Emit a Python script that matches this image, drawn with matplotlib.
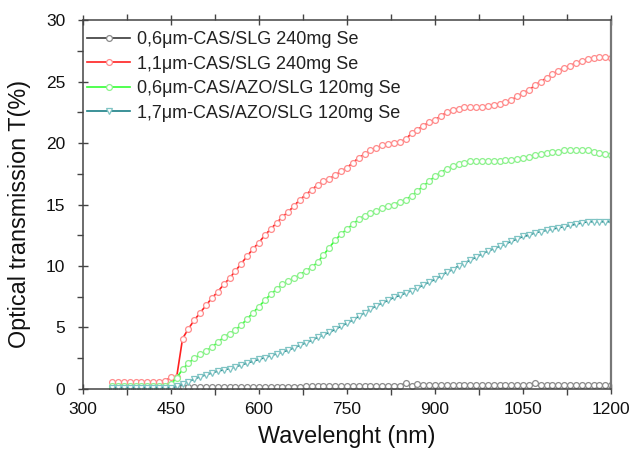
import numpy as np
import matplotlib
matplotlib.use("Agg")
import matplotlib.pyplot as plt
from matplotlib.ticker import MultipleLocator

plt.rcParams['font.family'] = ['Liberation Sans', 'DejaVu Sans']

# Wavelength grid (nm), 10 nm step
wavelength = np.arange(350, 1201, 10)

labels = [
    "0,6\u03bcm-CAS/SLG 240mg Se",
    "1,1\u03bcm-CAS/SLG 240mg Se",
    "0,6\u03bcm-CAS/AZO/SLG 120mg Se",
    "1,7\u03bcm-CAS/AZO/SLG 120mg Se",
]

# Transmission T(%)
t_06_slg = [
    0.10, 0.10, 0.10, 0.10, 0.10, 0.10, 0.10, 0.10, 0.10, 0.10,
    0.10, 0.12, 0.12, 0.12, 0.12, 0.14, 0.14, 0.14, 0.14, 0.15,
    0.15, 0.15, 0.15, 0.16, 0.16, 0.16, 0.17, 0.17, 0.18, 0.18,
    0.18, 0.19, 0.19, 0.20, 0.20, 0.20, 0.21, 0.21, 0.22, 0.22,
    0.22, 0.23, 0.23, 0.24, 0.24, 0.25, 0.25, 0.26, 0.26, 0.27,
    0.45, 0.25, 0.36, 0.32, 0.30, 0.35, 0.28, 0.30, 0.33, 0.30,
    0.30, 0.34, 0.30, 0.30, 0.33, 0.30, 0.30, 0.34, 0.30, 0.30,
    0.32, 0.30, 0.48, 0.33, 0.30, 0.35, 0.30, 0.30, 0.32, 0.30,
    0.30, 0.31, 0.30, 0.30, 0.31, 0.30,
]
t_11_slg = [
    0.55, 0.55, 0.55, 0.55, 0.55, 0.55, 0.55, 0.55, 0.60, 0.65,
    0.95, 1.00, 4.10, 4.90, 5.60, 6.20, 6.80, 7.40, 7.90, 8.50,
    9.00, 9.60, 10.2, 10.8, 11.4, 11.9, 12.5, 13.0, 13.5, 14.0,
    14.4, 14.9, 15.4, 15.8, 16.2, 16.6, 16.9, 17.1, 17.4, 17.7,
    18.0, 18.4, 18.8, 19.1, 19.4, 19.6, 19.8, 19.9, 20.0, 20.1,
    20.3, 20.8, 21.1, 21.4, 21.7, 21.9, 22.2, 22.5, 22.7, 22.8,
    22.9, 22.9, 22.9, 22.9, 23.0, 23.1, 23.2, 23.3, 23.5, 23.8,
    24.1, 24.3, 24.7, 25.0, 25.3, 25.6, 25.9, 26.1, 26.3, 26.5,
    26.7, 26.8, 26.9, 27.0, 27.0, 26.9,
]
t_06_azo = [
    0.25, 0.25, 0.25, 0.25, 0.25, 0.25, 0.25, 0.25, 0.25, 0.25,
    0.40, 0.90, 1.60, 2.10, 2.50, 2.80, 3.10, 3.40, 3.80, 4.20,
    4.50, 4.80, 5.20, 5.70, 6.20, 6.70, 7.20, 7.70, 8.10, 8.50,
    8.80, 9.00, 9.30, 9.60, 9.90, 10.3, 10.9, 11.5, 12.1, 12.6,
    13.0, 13.4, 13.8, 14.1, 14.3, 14.5, 14.7, 14.9, 15.0, 15.2,
    15.4, 15.7, 16.1, 16.5, 16.9, 17.3, 17.6, 17.9, 18.1, 18.3,
    18.4, 18.5, 18.5, 18.5, 18.5, 18.5, 18.5, 18.6, 18.6, 18.7,
    18.8, 18.9, 19.0, 19.1, 19.2, 19.3, 19.3, 19.4, 19.4, 19.4,
    19.4, 19.4, 19.3, 19.2, 19.1, 19.0,
]
t_17_azo = [
    0.10, 0.10, 0.10, 0.10, 0.10, 0.10, 0.10, 0.10, 0.10, 0.10,
    0.10, 0.20, 0.40, 0.60, 0.80, 1.00, 1.15, 1.30, 1.45, 1.55,
    1.65, 1.80, 1.95, 2.10, 2.25, 2.40, 2.55, 2.70, 2.85, 3.00,
    3.15, 3.35, 3.55, 3.75, 3.95, 4.20, 4.40, 4.60, 4.85, 5.10,
    5.35, 5.60, 5.90, 6.20, 6.50, 6.75, 7.00, 7.20, 7.45, 7.60,
    7.80, 8.00, 8.20, 8.45, 8.70, 8.90, 9.20, 9.50, 9.70, 10.0,
    10.2, 10.5, 10.7, 11.0, 11.2, 11.4, 11.6, 11.8, 12.0, 12.2,
    12.4, 12.5, 12.7, 12.8, 12.9, 13.0, 13.1, 13.2, 13.3, 13.4,
    13.5, 13.6, 13.6, 13.6, 13.6, 13.6,
]

series = [t_06_slg, t_11_slg, t_06_azo, t_17_azo]
line_colors = ["#3a3a3a", "#ff2020", "#33ff33", "#1a7f86"]
marker_colors = ["#8a8a8a", "#ff8c8c", "#8cf28c", "#7fc4c4"]
markers = ["o", "o", "o", "v"]

fig = plt.figure(figsize=(6.32, 4.57), dpi=100)
ax = fig.add_axes([0.131, 0.149, 0.836, 0.807])

for y, lab, lc, mc, mk in zip(series, labels, line_colors, marker_colors, markers):
    ax.plot(wavelength, y, color=lc, lw=1.2, marker=mk, ms=4.2,
            mfc="white", mec=mc, mew=0.9, label=lab)

ax.set_xlim(300, 1200)
ax.set_ylim(0, 30)
ax.xaxis.set_major_locator(MultipleLocator(150))
ax.xaxis.set_minor_locator(MultipleLocator(75))
ax.yaxis.set_major_locator(MultipleLocator(5))
ax.yaxis.set_minor_locator(MultipleLocator(2.5))

ax.tick_params(axis="both", which="major", direction="inout", length=7,
               width=1.0, color="#444444", labelsize=12.5, labelcolor="#111111")
ax.tick_params(axis="both", which="minor", direction="out", length=4,
               width=1.0, color="#444444")
ax.tick_params(axis="x", which="both", top=True, labeltop=False)
ax.tick_params(axis="y", which="both", right=False)
ax.tick_params(axis="x", which="major", pad=6)
ax.tick_params(axis="y", which="major", pad=9)

for side, sp in ax.spines.items():
    sp.set_color("#444444")
    sp.set_linewidth(1.1)
ax.spines["right"].set_color("#777777")
ax.spines["right"].set_linewidth(1.6)

ax.set_xlabel("Wavelenght (nm)", fontsize=16.8, color="#111111", labelpad=6)
ax.set_ylabel("Optical transmission T(%)", fontsize=16.8, color="#111111")
ax.yaxis.set_label_coords(-0.098, 0.474)

leg = ax.legend(loc="upper left", frameon=False, fontsize=13,
                handlelength=2.35, handletextpad=0.4, labelspacing=0.42,
                borderaxespad=0.2, bbox_to_anchor=(-0.012, 1.0))
for t in leg.get_texts():
    t.set_color("#222222")

fig.savefig("out.png", dpi=100)
